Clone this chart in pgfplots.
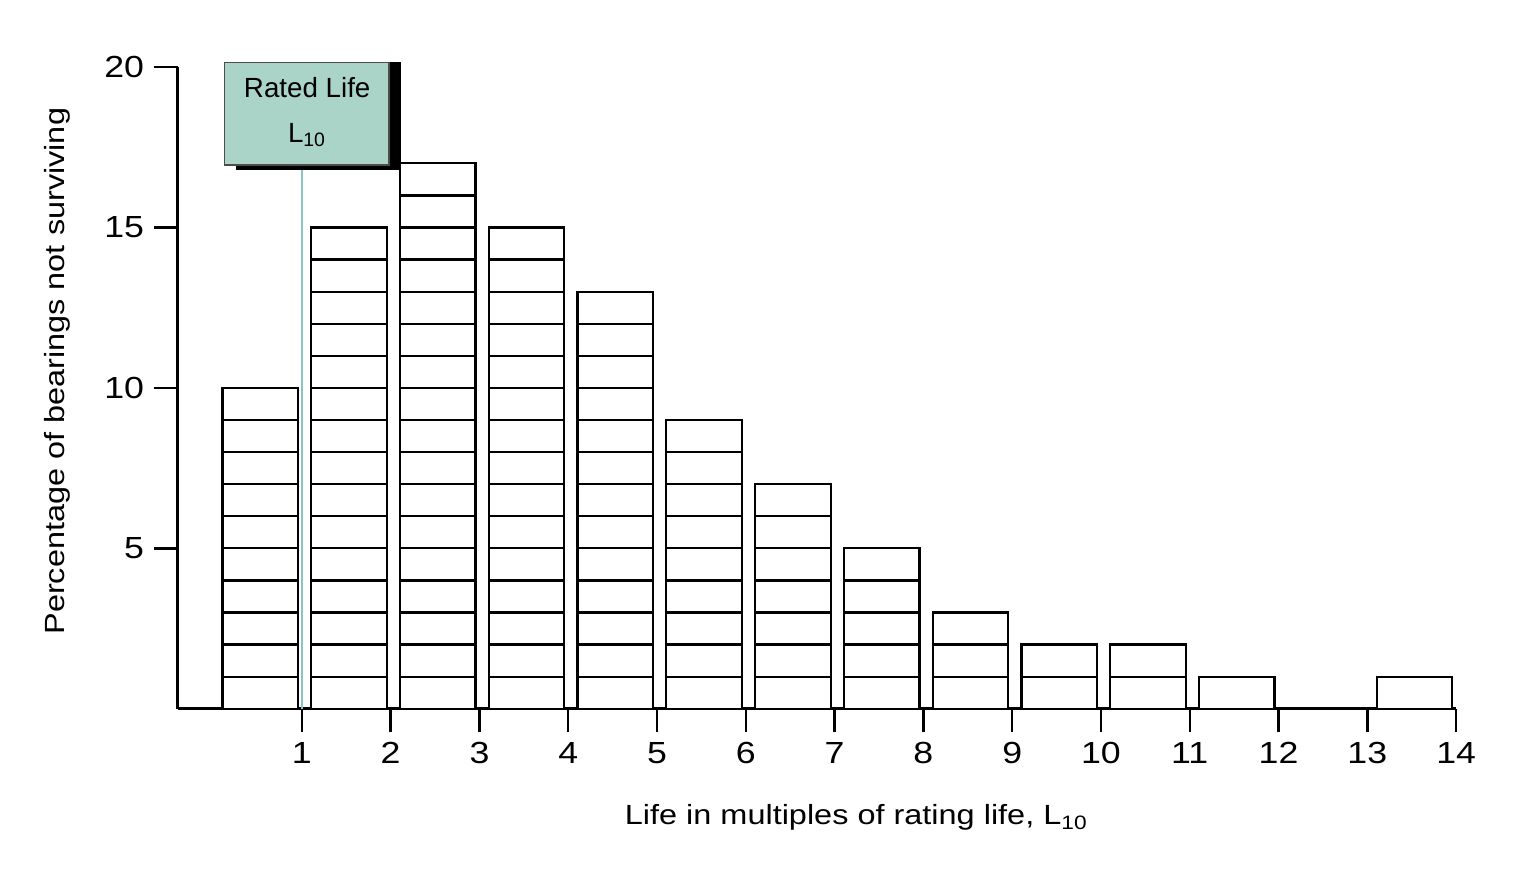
\documentclass[border=0pt]{standalone}
\usepackage{fontspec}
\setmainfont{Liberation Sans}[FakeStretch=1.17]
\newfontfamily\boxfont{Liberation Sans}
\usepackage{pgfplots}
\pgfplotsset{compat=1.18}
\usepackage{pgfplotstable}

\definecolor{boxfill}{RGB}{170,212,200}
\definecolor{ratedline}{RGB}{140,195,195}

% bar centre, percentage not surviving
\pgfplotstableread{
x     h
0.53  10
1.53  15
2.53  17
3.53  15
4.53  13
5.53  9
6.53  7
7.53  5
8.53  3
9.53  2
10.53 2
11.53 1
12.53 0
13.53 1
}\lifedata

\begin{document}
\begin{tikzpicture}
\begin{axis}[
    scale only axis,
    width=16.2cm,
    height=8.13cm,
    xmin=-0.4, xmax=14,
    ymin=0, ymax=20,
    axis lines*=left,
    axis line style={line width=0.9pt},
    xtick={1,...,14},
    ytick={5,10,15,20},
    tick align=outside,
    major tick length=0.3cm,
    tick style={line width=0.9pt, black},
    /pgf/number format/assume math mode=true,
    ticklabel style={font=\fontsize{11}{13}\selectfont},
    xlabel={Life in multiples of rating life, L\textsubscript{10}},
    ylabel={Percentage of bearings not surviving},
    label style={font=\fontsize{10}{12}\selectfont},
    xlabel style={at={(axis description cs:0.531,-0.170)}, anchor=center},
    ylabel style={at={(axis description cs:-0.0944,0.526)}, anchor=center},
    ybar stacked,
    bar width=0.85,
    clip=false,
]

% one unit box per level, stacked up to each bar's height
\pgfplotsinvokeforeach{1,...,17}{
    \addplot[fill=white, draw=black, line width=0.8pt]
        table[x=x, y expr={\thisrow{h}>=#1 ? 1 : 0}] {\lifedata};
}

\coordinate (lbase) at (axis cs:1,0);
\coordinate (ltop) at (axis cs:1,16.95);
\coordinate (bsw) at (axis cs:0.13,16.95);
\coordinate (bne) at (axis cs:1.98,20.15);
\coordinate (btxt) at (axis cs:1.06,18.6);
\end{axis}

% rated life marker
\draw[ratedline, line width=0.9pt] (lbase) -- (ltop);
\fill[black] ([shift={(0.15cm,-0.065cm)}]bsw |- ltop)
    rectangle ([xshift=0.15cm]bne);
\draw[fill=boxfill, draw=black!70, line width=0.5pt] (bsw) rectangle (bne);
\node[align=center, font=\boxfont\fontsize{10}{16}\selectfont]
    at (btxt) {Rated Life\\L\textsubscript{10}};

\pgfresetboundingbox
\path[use as bounding box]
    ([shift={(-2.25cm,-2.16cm)}]current axis.south west)
    rectangle ([shift={(0.86cm,0.85cm)}]current axis.north east);
\end{tikzpicture}
\end{document}
